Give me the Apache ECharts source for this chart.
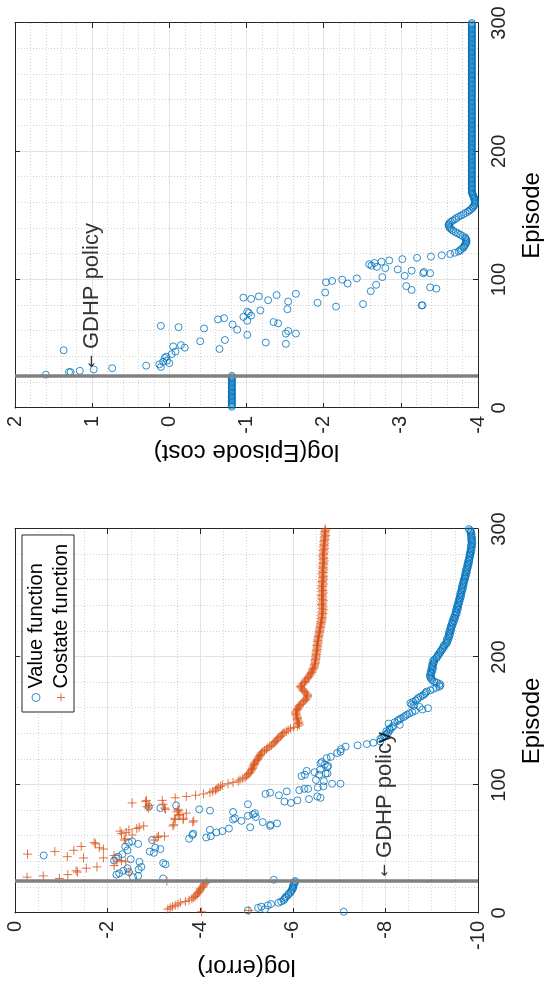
<!DOCTYPE html>
<html>
<head>
<meta charset="utf-8">
<script src="https://cdn.jsdelivr.net/npm/echarts@6/dist/echarts.min.js"></script>
<style>
  html, body { margin: 0; padding: 0; width: 549px; height: 990px; overflow: hidden; background: #fff; }
  /* the figure is laid out landscape and turned a quarter turn counter-clockwise */
  #fig { position: absolute; left: 0; top: 0; width: 990px; height: 549px;
         transform-origin: 0 0; transform: translateY(990px) rotate(-90deg); }
</style>
</head>
<body>
<div id="fig"></div>
<script>
// ---------------- data ----------------
const episodeTicks = [0, 100, 200, 300];
const errorTicks = [-10, -8, -6, -4, -2, 0];
const costTicks = [-4, -3, -2, -1, 0, 1, 2];
const gdhpEpisode = 25;                 // switch to the GDHP policy
const gdhpNoteError = [28, -8];         // arrow tip of the note, error plot
const gdhpNoteCost = [31, 1];           // arrow tip of the note, cost plot

// log(error) of the value function, episodes 1-24
const valueEarly = [-7.10,-5.03,-5.40,-5.25,-5.32,-5.46,-5.53,-5.69,-5.75,-5.80,
  -5.82,-5.84,-5.86,-5.90,-5.91,-5.95,-5.96,-5.98,-6.00,-6.01,-6.00,-6.02,-6.03,-6.05];
// [episode, log(error)] of the value function, episodes 25-134
const valueMid = [[25,-6.05],[26,-5.59],[27,-3.20],[28,-2.55],[29,-2.66],[30,-2.19],[31,-2.25],[32,-2.46],
  [33,-2.34],[34,-2.67],[35,-2.43],[36,-2.73],[38,-3.25],[39,-3.20],[40,-2.69],[41,-2.14],[42,-2.50],
  [43,-2.18],[44,-2.23],[45,-0.62],[46,-2.32],[47,-3.00],[48,-2.91],[49,-2.43],[50,-3.14],[51,-3.03],
  [52,-2.38],[54,-2.66],[55,-2.46],[56,-2.53],[57,-2.96],[58,-3.76],[59,-4.13],[60,-4.23],[61,-3.83],
  [62,-3.85],[63,-4.35],[64,-4.48],[65,-4.21],[66,-4.62],[67,-5.08],[68,-5.51],[69,-5.52],[70,-5.66],
  [71,-5.35],[72,-4.89],[73,-4.71],[74,-4.75],[75,-5.20],[76,-5.03],[77,-5.14],[78,-5.18],[79,-4.71],
  [80,-4.21],[81,-3.98],[82,-3.14],[83,-2.89],[84,-3.48],[85,-5.03],[86,-5.96],[87,-5.82],[88,-6.10],
  [89,-6.35],[90,-6.60],[91,-6.53],[92,-5.70],[93,-5.41],[94,-5.51],[95,-5.87],[96,-6.14],[97,-6.25],
  [97,-6.33],[98,-6.54],[99,-6.66],[101,-6.85],[101,-7.03],[103,-6.67],[104,-6.50],[107,-6.19],[108,-6.26],
  [108,-6.57],[109,-6.71],[109,-6.75],[110,-6.47],[111,-6.30],[112,-6.59],[114,-6.75],[115,-6.76],
  [116,-6.69],[117,-6.60],[118,-6.63],[121,-6.73],[122,-6.82],[125,-6.96],[126,-7.03],[128,-7.04],
  [130,-7.14],[131,-7.40],[132,-7.60],[133,-7.74],[134,-7.89]];
// log(error) of the value function, episodes 136-300
const valueLate = [-7.89,-7.93,-7.97,-7.99,-8.03,-8.06,-8.02,-8.10,-8.09,-8.14,
  -8.17,-8.31,-8.07,-8.20,-8.26,-8.29,-8.33,-8.39,-8.43,-8.47,
  -8.52,-8.58,-8.64,-8.80,-8.92,-8.74,-8.62,-8.57,-8.54,-8.60,
  -8.65,-8.69,-8.71,-8.76,-8.81,-8.84,-8.87,-8.89,-8.97,-9.03,
  -9.10,-9.17,-9.19,-9.17,-9.11,-9.05,-9.01,-8.99,-8.97,-8.98,
  -8.96,-8.99,-9.00,-8.98,-9.02,-9.00,-9.03,-9.01,-9.01,-9.04,
  -9.05,-9.03,-9.06,-9.10,-9.11,-9.14,-9.14,-9.17,-9.19,-9.20,
  -9.23,-9.24,-9.27,-9.26,-9.30,-9.33,-9.32,-9.35,-9.33,-9.37,
  -9.36,-9.39,-9.37,-9.40,-9.38,-9.42,-9.40,-9.43,-9.41,-9.44,
  -9.46,-9.44,-9.48,-9.46,-9.50,-9.48,-9.51,-9.50,-9.54,-9.53,
  -9.52,-9.56,-9.54,-9.57,-9.55,-9.58,-9.57,-9.60,-9.58,-9.61,
  -9.60,-9.63,-9.61,-9.64,-9.62,-9.65,-9.64,-9.67,-9.65,-9.68,
  -9.66,-9.69,-9.68,-9.70,-9.69,-9.72,-9.71,-9.73,-9.72,-9.75,
  -9.73,-9.76,-9.74,-9.77,-9.76,-9.79,-9.77,-9.80,-9.78,-9.81,
  -9.80,-9.82,-9.81,-9.83,-9.82,-9.84,-9.83,-9.86,-9.84,-9.85,
  -9.87,-9.85,-9.86,-9.88,-9.86,-9.87,-9.85,-9.87,-9.86,-9.85,
  -9.86,-9.84,-9.85,-9.83,-9.80];

// log(error) of the costate function, episodes 1-24
const costateEarly = [-4.03,-5.05,-3.30,-3.35,-3.40,-3.46,-3.52,-3.57,-3.68,-3.76,
  -3.82,-3.86,-3.89,-3.91,-3.94,-3.96,-3.98,-4.00,-4.01,-4.04,-4.06,-4.08,-4.10,-4.14];
// [episode, log(error)] of the costate function, episodes 25-93
const costateMid = [[25,-3.28],[27,-0.96],[28,-0.26],[29,-0.61],[30,-1.14],[32,-1.35],[33,-1.32],
  [32,-2.46],[35,-1.54],[36,-1.77],[37,-2.14],[40,-2.39],[40,-2.20],[41,-2.30],[43,-1.91],[43,-1.48],
  [44,-1.13],[45,-2.14],[46,-0.27],[48,-0.86],[49,-1.27],[50,-1.91],[51,-1.82],[52,-1.43],[54,-1.74],
  [55,-1.71],[57,-2.36],[57,-3.00],[58,-2.38],[59,-3.07],[60,-3.10],[60,-3.23],[61,-2.53],[62,-2.30],
  [63,-2.40],[64,-2.27],[65,-2.46],[66,-2.63],[67,-2.68],[68,-2.78],[68,-3.41],[69,-3.43],[71,-3.84],
  [72,-3.86],[73,-3.46],[73,-3.63],[74,-3.45],[74,-3.64],[76,-3.54],[77,-3.56],[78,-3.70],[79,-3.50],
  [80,-3.53],[81,-3.52],[81,-3.25],[82,-3.23],[82,-2.88],[83,-2.85],[84,-2.90],[85,-3.20],[86,-2.53],
  [87,-2.82],[88,-2.84],[88,-3.18],[90,-3.46],[91,-3.70],[92,-3.90],[93,-4.07]];
// log(error) of the costate function, episodes 94-300
const costateLate = [-4.21,-4.27,-4.33,-4.36,-4.39,-4.44,-4.48,-4.60,-4.71,-4.82,
  -4.86,-4.92,-4.97,-5.00,-5.03,-5.05,-5.08,-5.10,-5.11,-5.13,
  -5.14,-5.15,-5.17,-5.17,-5.19,-5.22,-5.24,-5.26,-5.27,-5.29,
  -5.30,-5.32,-5.35,-5.39,-5.43,-5.46,-5.50,-5.54,-5.57,-5.60,
  -5.62,-5.65,-5.67,-5.70,-5.73,-5.76,-5.78,-5.81,-5.86,-5.90,
  -5.95,-6.02,-6.10,-6.14,-6.12,-6.13,-6.11,-6.09,-6.10,-6.10,
  -6.08,-6.07,-6.07,-6.06,-6.08,-6.10,-6.11,-6.13,-6.14,-6.17,
  -6.20,-6.23,-6.26,-6.28,-6.30,-6.32,-6.32,-6.31,-6.28,-6.25,
  -6.22,-6.21,-6.18,-6.16,-6.19,-6.22,-6.25,-6.27,-6.28,-6.31,
  -6.33,-6.35,-6.37,-6.39,-6.40,-6.42,-6.43,-6.44,-6.46,-6.47,
  -6.47,-6.48,-6.49,-6.48,-6.49,-6.50,-6.50,-6.50,-6.51,-6.50,
  -6.52,-6.51,-6.53,-6.52,-6.54,-6.52,-6.53,-6.55,-6.53,-6.55,
  -6.54,-6.56,-6.55,-6.57,-6.56,-6.58,-6.57,-6.59,-6.58,-6.60,
  -6.59,-6.61,-6.60,-6.62,-6.61,-6.63,-6.62,-6.64,-6.62,-6.63,
  -6.65,-6.63,-6.64,-6.66,-6.63,-6.65,-6.64,-6.62,-6.65,-6.63,
  -6.66,-6.64,-6.63,-6.65,-6.62,-6.64,-6.66,-6.63,-6.65,-6.64,
  -6.62,-6.65,-6.63,-6.66,-6.64,-6.63,-6.65,-6.67,-6.64,-6.66,
  -6.65,-6.63,-6.66,-6.64,-6.67,-6.65,-6.66,-6.64,-6.67,-6.65,
  -6.66,-6.68,-6.65,-6.67,-6.66,-6.64,-6.67,-6.66,-6.68,-6.65,
  -6.67,-6.69,-6.66,-6.68,-6.67,-6.69,-6.67,-6.68,-6.70,-6.68,
  -6.69,-6.71,-6.68,-6.70,-6.69,-6.71,-6.70];

// log(Episode cost), episodes 1-25
const costEarly = [-0.81,-0.81,-0.81,-0.81,-0.81,-0.81,-0.81,-0.81,-0.81,-0.81,
  -0.81,-0.81,-0.81,-0.81,-0.81,-0.81,-0.81,-0.81,-0.81,-0.81,-0.81,-0.81,-0.81,-0.81,-0.81];
// [episode, log(Episode cost)], episodes 26-119
const costMid = [[26,1.60],[28,1.30],[28,1.28],[29,1.16],[30,0.98],[31,0.74],[32,0.11],[33,0.30],
  [34,0.13],[35,0.00],[36,0.08],[37,0.03],[39,0.06],[40,0.04],[42,-0.03],[44,-0.08],[45,1.37],
  [46,-0.65],[47,-0.20],[48,-0.05],[49,-0.15],[50,-1.51],[51,-1.25],[52,-0.40],[53,-0.72],[57,-1.01],
  [58,-1.64],[58,-1.51],[60,-1.54],[61,-0.88],[62,-0.45],[63,-0.12],[64,0.11],[65,-0.82],[66,-1.41],
  [67,-1.35],[68,-1.01],[69,-0.63],[70,-0.71],[71,-0.96],[72,-1.06],[74,-1.03],[75,-1.01],[76,-1.18],
  [77,-1.53],[79,-2.16],[80,-3.27],[80,-3.28],[81,-2.51],[82,-1.92],[83,-1.54],[84,-1.28],[85,-1.06],
  [86,-0.96],[87,-1.16],[88,-1.39],[89,-1.64],[90,-2.02],[91,-2.61],[92,-3.14],[93,-3.46],[94,-3.38],
  [95,-3.07],[96,-2.68],[97,-2.31],[98,-2.03],[99,-2.11],[100,-2.24],[101,-2.43],[102,-2.76],[103,-3.05],
  [105,-3.29],[105,-3.38],[106,-3.30],[107,-3.14],[108,-2.96],[109,-2.80],[110,-2.69],[111,-2.62],
  [112,-2.59],[113,-2.66],[114,-2.75],[115,-2.85],[116,-3.02],[117,-3.21],[118,-3.39],[119,-3.53]];
// log(Episode cost), episodes 120-300
const costLate = [-3.64,-3.70,-3.75,-3.77,-3.79,-3.81,-3.82,-3.83,-3.84,-3.85,
  -3.85,-3.85,-3.84,-3.83,-3.80,-3.77,-3.74,-3.71,-3.68,-3.66,
  -3.64,-3.63,-3.62,-3.62,-3.63,-3.65,-3.67,-3.70,-3.72,-3.75,
  -3.78,-3.81,-3.84,-3.87,-3.89,-3.91,-3.93,-3.94,-3.95,-3.96,
  -3.96,-3.96,-3.96,-3.95,-3.95,-3.94,-3.93,-3.93,-3.92,-3.92,
  -3.92,-3.92,-3.92,-3.92,-3.92,-3.92,-3.92,-3.92,-3.92,-3.92,
  -3.92,-3.92,-3.92,-3.92,-3.92,-3.92,-3.92,-3.92,-3.92,-3.92,
  -3.92,-3.92,-3.92,-3.92,-3.92,-3.92,-3.92,-3.92,-3.92,-3.92,
  -3.92,-3.92,-3.92,-3.92,-3.92,-3.92,-3.92,-3.92,-3.92,-3.92,
  -3.92,-3.92,-3.92,-3.92,-3.92,-3.92,-3.92,-3.92,-3.92,-3.92,
  -3.92,-3.92,-3.92,-3.92,-3.92,-3.92,-3.92,-3.92,-3.92,-3.92,
  -3.92,-3.92,-3.92,-3.92,-3.92,-3.92,-3.92,-3.92,-3.92,-3.92,
  -3.92,-3.92,-3.92,-3.92,-3.92,-3.92,-3.92,-3.92,-3.92,-3.92,
  -3.92,-3.92,-3.92,-3.92,-3.92,-3.92,-3.92,-3.92,-3.92,-3.92,
  -3.92,-3.92,-3.92,-3.92,-3.92,-3.92,-3.92,-3.92,-3.92,-3.92,
  -3.92,-3.92,-3.92,-3.92,-3.92,-3.92,-3.92,-3.92,-3.92,-3.92,
  -3.92,-3.92,-3.92,-3.92,-3.92,-3.92,-3.92,-3.92,-3.92,-3.92,
  -3.92,-3.92,-3.92,-3.92,-3.92,-3.92,-3.92,-3.92,-3.92,-3.92,
  -3.92];

// ---------------- helpers ----------------
const BLUE = '#0072BD';
const ORANGE = '#D95319';
const INK = '#262626';
const FONT = '"Liberation Sans", Arial, Helvetica, sans-serif';
const PLUS = 'path://M5,0L5,10M0,5L10,5';

const fromStart = (arr, first) => arr.map((v, i) => [first + i, v]);
const series = (a, b, c) => a.concat(b, c);

const valueData = series(fromStart(valueEarly, 1), valueMid, fromStart(valueLate, 136));
const costateData = series(fromStart(costateEarly, 1), costateMid, fromStart(costateLate, 94));
const costData = series(fromStart(costEarly, 1), costMid, fromStart(costLate, 120));

const range = t => ({ min: t[0], max: t[t.length - 1], interval: t[1] - t[0] });

function mainAxis(grid, pos, ticks, minor, extra) {
  return Object.assign({
    gridIndex: grid, type: 'value', position: pos,
    ...range(ticks),
    axisLine: { show: true, onZero: false, lineStyle: { color: INK, width: 1 } },
    axisTick: { show: true, inside: true, length: 5, lineStyle: { color: INK } },
    axisLabel: { show: true, fontSize: 20, color: INK, fontFamily: FONT },
    splitLine: { show: true, lineStyle: { color: '#e3e3e3', width: 1 } },
    minorTick: { show: false, splitNumber: minor },
    minorSplitLine: { show: true, lineStyle: { color: '#d2d2d2', type: [1, 2], width: 1 } }
  }, extra);
}
function mirrorAxis(grid, pos, ticks) {
  return {
    gridIndex: grid, type: 'value', position: pos, ...range(ticks),
    axisLine: { show: true, onZero: false, lineStyle: { color: INK, width: 1 } },
    axisTick: { show: true, inside: true, length: 5, lineStyle: { color: INK } },
    axisLabel: { show: false }, splitLine: { show: false }
  };
}
const nameStyle = { fontSize: 24, color: '#000', fontFamily: FONT };

function gdhpNote(xi, yi, at) {
  return {
    type: 'scatter', xAxisIndex: xi, yAxisIndex: yi, silent: true, z: 20,
    symbolSize: 1, itemStyle: { color: 'rgba(0,0,0,0)' },
    data: [at],
    label: {
      show: true, position: 'right', distance: 0,
      formatter: '{a|←} GDHP policy',
      fontSize: 22, color: '#000', fontFamily: FONT,
      rich: { a: { fontFamily: 'DejaVu Sans', fontSize: 15, color: '#000' } }
    }
  };
}
function switchLine() {
  return {
    silent: true, symbol: ['none', 'none'], label: { show: false },
    lineStyle: { color: '#808080', width: 3.5, type: 'solid' },
    data: [{ xAxis: gdhpEpisode }], z: 10, animation: false
  };
}

// ---------------- chart ----------------
const chart = echarts.init(document.getElementById('fig'), null, { renderer: 'canvas', width: 990, height: 549 });

chart.setOption({
  animation: false,
  backgroundColor: '#fff',
  textStyle: { fontFamily: FONT },
  grid: [
    { left: 77, top: 15, width: 384, height: 467 },
    { left: 582, top: 15, width: 385, height: 467 }
  ],
  xAxis: [
    mainAxis(0, 'bottom', episodeTicks, 5, { name: 'Episode', nameLocation: 'middle', nameGap: 42, nameTextStyle: nameStyle, axisLabel: { fontSize: 20, color: INK, fontFamily: FONT, margin: 11 } }),
    mirrorAxis(0, 'top', episodeTicks),
    mainAxis(1, 'bottom', episodeTicks, 5, { name: 'Episode', nameLocation: 'middle', nameGap: 42, nameTextStyle: nameStyle, axisLabel: { fontSize: 20, color: INK, fontFamily: FONT, margin: 11 } }),
    mirrorAxis(1, 'top', episodeTicks)
  ],
  yAxis: [
    mainAxis(0, 'left', errorTicks, 4, { name: 'log(error)', nameLocation: 'middle', nameGap: 42, nameTextStyle: nameStyle, axisLabel: { fontSize: 20, color: INK, fontFamily: FONT, margin: 8 } }),
    mirrorAxis(0, 'right', errorTicks),
    mainAxis(1, 'left', costTicks, 5, { name: 'log(Episode cost)', nameLocation: 'middle', nameGap: 32, nameTextStyle: nameStyle, axisLabel: { fontSize: 20, color: INK, fontFamily: FONT, margin: 8 } }),
    mirrorAxis(1, 'right', costTicks)
  ],
  legend: {
    orient: 'vertical', left: 278, top: 22,
    padding: [4, 9, 3, 10], itemGap: 5, itemWidth: 8, itemHeight: 8,
    backgroundColor: '#fff', borderColor: INK, borderWidth: 1, borderRadius: 0,
    textStyle: { fontSize: 20, color: '#000', fontFamily: FONT },
    data: [
      { name: 'Value function', icon: 'circle', itemStyle: { color: 'rgba(0,0,0,0)', borderColor: BLUE, borderWidth: 1 } },
      { name: 'Costate function', icon: PLUS, itemStyle: { color: 'rgba(0,0,0,0)', borderColor: ORANGE, borderWidth: 1 } }
    ]
  },
  series: [
    {
      name: 'Value function', type: 'scatter', xAxisIndex: 0, yAxisIndex: 0,
      symbol: 'circle', symbolSize: 7,
      itemStyle: { color: 'rgba(0,0,0,0)', borderColor: BLUE, borderWidth: 1 },
      data: valueData
    },
    {
      name: 'Costate function', type: 'scatter', xAxisIndex: 0, yAxisIndex: 0,
      symbol: PLUS, symbolSize: 9,
      itemStyle: { color: 'rgba(0,0,0,0)', borderColor: ORANGE, borderWidth: 1 },
      data: costateData,
      markLine: switchLine()
    },
    {
      name: 'Episode cost', type: 'scatter', xAxisIndex: 2, yAxisIndex: 2,
      symbol: 'circle', symbolSize: 7,
      itemStyle: { color: 'rgba(0,0,0,0)', borderColor: BLUE, borderWidth: 1 },
      data: costData,
      markLine: switchLine()
    },
    gdhpNote(0, 0, gdhpNoteError),
    gdhpNote(2, 2, gdhpNoteCost)
  ]
});
</script>
</body>
</html>
